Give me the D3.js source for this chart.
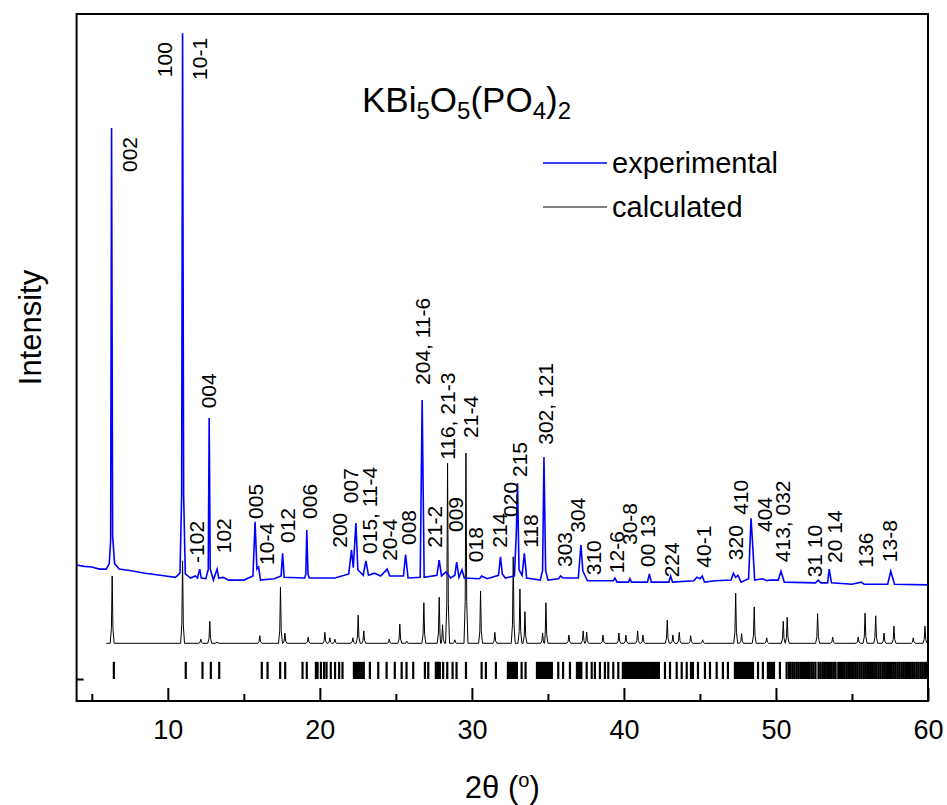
<!DOCTYPE html>
<html>
<head>
<meta charset="utf-8">
<script src="https://cdn.jsdelivr.net/npm/d3@7"></script>
<style>
    body { margin: 0; background: #fff; }
    text { font-family: "Liberation Sans", Arial, sans-serif; fill: #000; }
</style>
</head>
<body>
<div id="chart"></div>
<script>
// experimental pattern, [2theta, intensity]
var expPoints = [[4.0,198],[4.5,196],[5.0,195],[5.5,192],[5.95,192],[6.15,200],[6.24,235],[6.3,834],[6.37,240],[6.5,200],
    [6.8,192],[7.5,190],[8.5,186],[9.5,183],[10.5,180],[10.8,186],[10.91,300],[10.97,972],[11.04,300],[11.15,185],
    [11.5,179],[11.8,182],[11.95,179],[12.1,192],[12.2,179],[12.5,178],[12.66,192],[12.72,412],[12.79,192],[13.0,176],
    [13.24,192],[13.35,179],[13.65,180],[14.0,176],[15.0,176],[15.6,182],[15.74,261],[15.86,192],[15.97,195],[16.1,176],
    [17.0,178],[17.45,182],[17.55,215],[17.65,180],[19.0,179],[19.08,185],[19.14,249],[19.22,185],[19.3,179],[21.0,179],
    [21.9,185],[22.08,220],[22.2,194],[22.37,259],[22.5,191],[22.85,183],[23.03,204],[23.2,183],[23.6,186],[24.0,182],
    [24.43,192],[24.6,182],[25.5,182],[25.64,213],[25.8,179],[26.6,180],[26.73,438],[26.86,180],[27.7,183],[27.85,205],
    [28.0,182],[28.3,188],[28.6,179],[28.88,183],[29.0,202],[29.15,180],[29.35,191],[29.5,179],[30.5,178],[30.64,182],
    [31.0,178],[31.75,183],[31.88,210],[32.0,185],[32.2,179],[32.8,182],[32.93,250],[33.0,317],[33.1,191],[33.3,183],
    [33.45,215],[33.6,179],[34.5,176],[34.65,190],[34.74,355],[34.85,190],[35.0,176],[35.7,178],[35.83,182],[36.0,179],
    [37.0,179],[37.17,227],[37.3,189],[37.43,183],[37.6,175],[39.3,175],[39.41,179],[39.55,173],[40.3,173],[40.39,178],
    [40.5,173],[41.55,173],[41.67,185],[41.8,173],[42.95,173],[43.07,182],[43.2,173],[44.6,175],[44.8,180],[45.0,178],
    [45.15,182],[45.3,173],[46.0,175],[47.05,176],[47.2,186],[47.35,180],[47.5,183],[47.7,173],[48.2,178],[48.36,266],
    [48.45,234],[48.6,176],[49.13,178],[49.4,175],[49.6,176],[50.15,176],[50.33,189],[50.55,173],[52.6,172],[52.78,176],
    [52.95,172],[53.4,172],[53.5,192],[53.65,172],[55.0,170],[55.6,173],[55.8,170],[56.3,170],[57.35,170],[57.55,189],
    [57.8,170],[60.0,169]];

// calculated pattern: flat background + peaks [2theta, top]
var calcStart = 5.96;
var calcBase = 84;
var calcPeaks = [[6.34,182],[10.97,204],[12.17,90],[12.76,116],[13.24,86],[16.05,95],[17.41,166],[17.70,99],[19.23,93],
    [20.33,100],[20.66,92],[20.99,90],[22.17,92],[22.52,125],[22.89,102],[24.56,90],[25.26,112],[25.72,87],[26.84,143],
    [27.85,151],[28.07,111],[28.40,346],[28.88,89],[29.61,361],[30.57,160],[31.51,100],[32.72,210],[33.16,163],[33.49,130],
    [34.65,99],[34.87,143],[36.38,96],[37.32,102],[37.55,100],[38.62,96],[39.67,99],[40.13,96],[40.90,102],[41.25,96],
    [42.85,118],[43.22,96],[43.64,100],[44.39,95],[45.18,89],[47.35,157],[47.74,98],[48.57,137],[49.39,92],[50.48,116],
    [50.74,122],[52.74,127],[53.73,93],[55.41,93],[55.86,128],[56.56,124],[57.11,99],[57.76,109],[59.03,92],[59.80,109]];

// Bragg reflection positions (2theta)
var braggTicks = [6.45,11.18,12.28,12.83,13.38,16.18,16.56,17.39,17.72,18.86,19.14,19.74,19.85,20.07,20.28,20.44,20.72,
    21.0,21.27,21.49,22.24,22.37,22.5,22.63,22.76,22.89,23.29,23.84,24.39,24.93,25.38,25.7,26.14,26.91,27.13,27.63,27.7,
    27.76,27.83,27.89,28.11,28.38,28.73,28.99,29.61,30.64,30.92,31.58,32.37,32.47,32.57,32.67,32.76,32.86,32.96,33.27,
    33.53,34.28,34.38,34.47,34.57,34.67,34.77,34.87,34.97,35.07,35.16,35.26,35.68,36.0,36.45,36.91,37.01,37.11,37.2,
    37.55,37.88,38.09,38.42,38.75,38.97,39.3,39.63,39.93,40.07,40.2,40.33,40.46,40.59,40.72,40.86,40.99,41.12,41.25,
    41.38,41.51,41.64,41.78,41.91,42.04,42.17,42.3,42.7,43.03,43.47,43.8,44.13,44.41,44.54,44.87,45.33,45.66,46.1,
    46.51,46.84,47.3,47.43,47.57,47.7,47.83,47.96,48.09,48.22,48.36,48.49,48.82,49.14,49.47,49.61,49.74,49.87,50.26,
    50.7,50.85,50.97,51.1,51.22,51.35,51.47,51.6,51.72,51.85,51.97,52.1,52.22,52.35,52.47,52.6,52.8,52.92,53.05,53.17,
    53.28,53.42,53.55,53.67,53.8,53.92,54.1,54.22,54.35,54.47,54.62,54.75,54.87,55.0,55.12,55.25,55.37,55.5,55.62,
    55.75,55.87,56.0,56.12,56.25,56.37,56.5,56.62,56.75,56.87,57.0,57.12,57.25,57.37,57.5,57.62,57.75,57.87,58.0,
    58.12,58.25,58.37,58.5,58.62,58.75,58.87,59.0,59.12,59.25,59.37,59.5,59.62,59.75,59.87,59.97];

// hkl labels: text, 2theta, intensity where the label starts
var hklText = ["002","100","10-1","004","-102","102","005","10-4","012","006","200","007","015, 11-4","20-4","008",
    "204, 11-6","21-2","116, 21-3","009","21-4","018","214","020","215","118","302, 121","303","304","310","12-6",
    "30-8","00 13","224","40-1","320","410","404","413, 032","31 10","20 14","136","13-8"];
var hklPos = [7.96,10.26,12.6,13.16,12.37,14.14,16.25,16.97,18.36,19.8,21.78,22.5,23.75,25.07,26.32,27.24,28.06,28.88,
    29.41,30.39,30.72,32.3,33.03,33.62,34.34,35.33,36.58,37.43,38.49,40.0,40.86,42.04,43.62,45.72,47.83,48.16,49.74,
    50.92,53.03,54.34,56.38,57.96];
var hklLevel = [770,908,904,426,201,215,265,198,230,265,223,288,214,204,227,460,223,351,246,383,202,223,268,326,223,
    373,195,245,183,186,227,195,180,194,205,271,246,202,180,201,194,202];

var xTicks = [10, 20, 30, 40, 50, 60];
var xMinorTicks = [5, 15, 25, 35, 45, 55];
var seriesNames = ["experimental", "calculated"];
var seriesColors = ["#0000ff", "#000000"];

function init() {
    var w = 947;
    var h = 805;
    var left = 76.6, right = 928, top = 14, bottom = 701;

    var xScale = d3.scaleLinear().domain([4, 60]).range([left, right]);
    var yScale = d3.scaleLinear().domain([0, 1000]).range([bottom, top]);

    var svg = d3.select("#chart")
        .append("svg")
        .attr("width", w)
        .attr("height", h);

    var line = d3.line()
        .x(function (d) { return xScale(d[0]); })
        .y(function (d) { return yScale(d[1]); });

    // build calculated curve from the peak list
    var calcPoints = [[calcStart, calcBase]];
    calcPeaks.forEach(function (p) {
        var r = p[1] - calcBase;
        calcPoints.push([p[0] - 0.13, calcBase]);
        calcPoints.push([p[0] - 0.05, calcBase + r * 0.22]);
        calcPoints.push([p[0], p[1]]);
        calcPoints.push([p[0] + 0.05, calcBase + r * 0.22]);
        calcPoints.push([p[0] + 0.13, calcBase]);
    });
    calcPoints.push([60, calcBase]);
    calcPoints.sort(function (a, b) { return a[0] - b[0]; });

    svg.append("path")
        .datum(calcPoints)
        .attr("d", line)
        .attr("fill", "none")
        .attr("stroke", seriesColors[1])
        .attr("stroke-width", 1);

    svg.append("path")
        .datum(expPoints)
        .attr("d", line)
        .attr("fill", "none")
        .attr("stroke", seriesColors[0])
        .attr("stroke-width", 1.6);

    // Bragg ticks
    svg.append("g")
        .selectAll("line")
        .data(braggTicks)
        .enter()
        .append("line")
        .attr("x1", function (d) { return xScale(d); })
        .attr("x2", function (d) { return xScale(d); })
        .attr("y1", yScale(57))
        .attr("y2", yScale(32))
        .attr("stroke", "#000")
        .attr("stroke-width", 2.2);

    // hkl labels
    svg.append("g")
        .selectAll("text")
        .data(hklText)
        .enter()
        .append("text")
        .attr("transform", function (d, i) {
            return "translate(" + xScale(hklPos[i]) + "," + yScale(hklLevel[i]) + ") rotate(-90)";
        })
        .style("font-size", "21px")
        .text(function (d) { return d; });

    // frame
    svg.append("rect")
        .attr("x", left)
        .attr("y", top)
        .attr("width", right - left)
        .attr("height", bottom - top)
        .attr("fill", "none")
        .attr("stroke", "#000")
        .attr("stroke-width", 2);

    // x axis
    var xAxis = d3.axisBottom(xScale)
        .tickValues(xTicks)
        .tickSizeInner(-13)
        .tickSizeOuter(0)
        .tickPadding(19)
        .tickFormat(d3.format("d"));

    var gx = svg.append("g")
        .attr("transform", "translate(0," + bottom + ")")
        .call(xAxis);
    gx.select(".domain").remove();
    gx.selectAll("line").attr("stroke-width", 2);
    gx.selectAll("text")
        .style("font-size", "27px")
        .style("font-family", "'Liberation Sans', Arial, sans-serif");

    var gxm = svg.append("g")
        .attr("transform", "translate(0," + bottom + ")")
        .call(d3.axisBottom(xScale).tickValues(xMinorTicks).tickSizeInner(-7).tickSizeOuter(0).tickFormat(""));
    gxm.select(".domain").remove();
    gxm.selectAll("line").attr("stroke-width", 2);

    // small y tick on the left axis
    var gy = svg.append("g")
        .attr("transform", "translate(" + left + ",0)")
        .call(d3.axisLeft(yScale).tickValues([32]).tickSizeInner(-7).tickSizeOuter(0).tickFormat(""));
    gy.select(".domain").remove();
    gy.selectAll("line").attr("stroke-width", 2);

    // axis titles
    svg.append("text")
        .attr("transform", "translate(41," + ((top + bottom) / 2 - 30) + ") rotate(-90)")
        .attr("text-anchor", "middle")
        .style("font-size", "31px")
        .text("Intensity");

    var xl = svg.append("text")
        .attr("x", (left + right) / 2)
        .attr("y", 798)
        .attr("text-anchor", "middle")
        .style("font-size", "31px");
    xl.append("tspan").text("2\u03b8 (");
    xl.append("tspan").attr("baseline-shift", "super").style("font-size", "20px").text("o");
    xl.append("tspan").text(")");

    // compound title
    var t = svg.append("text")
        .attr("x", 362)
        .attr("y", 112)
        .style("font-size", "35px");
    var parts = [["KBi", 0], ["5", 1], ["O", 0], ["5", 1], ["(PO", 0], ["4", 1], [")", 0], ["2", 1]];
    var shifted = false;
    parts.forEach(function (p) {
        var s = t.append("tspan").text(p[0]);
        if (p[1]) {
            s.attr("dy", 7).style("font-size", "24px");
            shifted = true;
        } else if (shifted) {
            s.attr("dy", -7);
            shifted = false;
        }
    });

    // legend
    var legend = svg.append("g");
    seriesNames.forEach(function (name, i) {
        var ly = 163 + i * 44;
        legend.append("line")
            .attr("x1", 543)
            .attr("x2", 607)
            .attr("y1", ly)
            .attr("y2", ly)
            .attr("stroke", seriesColors[i])
            .attr("stroke-width", i == 0 ? 1.6 : 1);
        legend.append("text")
            .attr("x", 612)
            .attr("y", ly + 10)
            .style("font-size", "29px")
            .text(name);
    });
}

window.onload = init;
</script>
</body>
</html>
